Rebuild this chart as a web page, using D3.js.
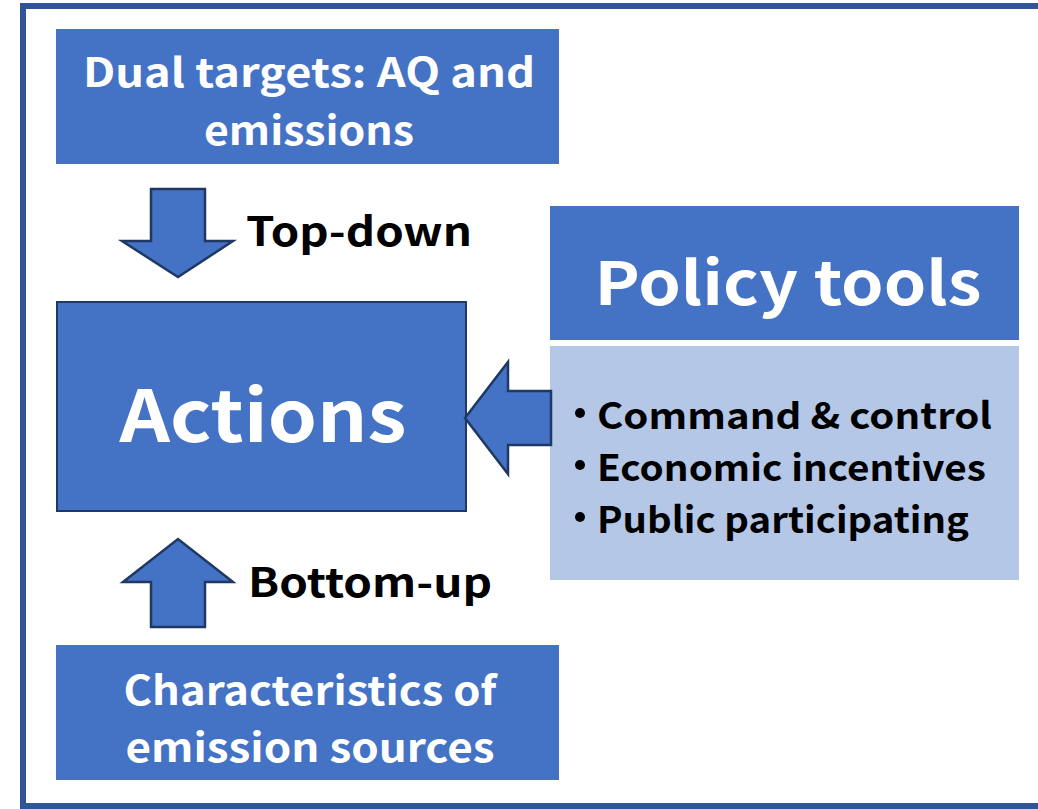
<!DOCTYPE html>
<html>
<head>
<meta charset="utf-8">
<script src="https://cdn.jsdelivr.net/npm/d3@7"></script>
<style>
  body { margin: 0; background: #fff; }
  text { font-family: "Noto Sans CJK SC", "Noto Sans", sans-serif; font-weight: 700; }
</style>
</head>
<body>
<script>
const w = 1038;
const h = 809;

// texts of the diagram
const topLines = ["Dual targets: AQ and", "emissions"];
const bottomLines = ["Characteristics of", "emission sources"];
const centerLabel = "Actions";
const policyTitle = "Policy tools";
const policyItems = ["Command & control", "Economic incentives", "Public participating"];
const arrowLabels = ["Top-down", "Bottom-up"];

const blue = "#4472C4";
const lightBlue = "#B4C7E7";
const dark = "#1F3864";
const frame = "#2F5597";

const svg = d3.select("body")
    .append("svg")
    .attr("width", w)
    .attr("height", h);

// outer frame (right edge runs off the page)
svg.append("path")
    .attr("d", `M${w + 10},6 H23 V806 H${w + 10}`)
    .attr("fill", "none")
    .attr("stroke", frame)
    .attr("stroke-width", 6);

function box(x0, y0, x1, y1, fill, stroke) {
    svg.append("rect")
        .attr("x", x0).attr("y", y0)
        .attr("width", x1 - x0).attr("height", y1 - y0)
        .attr("fill", fill)
        .attr("stroke", stroke || "none")
        .attr("stroke-width", 2);
}

function label(txt, x, y, size, color, len, anchor) {
    const t = svg.append("text")
        .attr("x", x).attr("y", y)
        .attr("font-size", size)
        .attr("fill", color)
        .attr("text-anchor", anchor || "middle")
        .attr("dominant-baseline", "central")
        .text(txt);
    if (len) t.attr("textLength", len).attr("lengthAdjust", "spacingAndGlyphs");
    return t;
}

// top and bottom boxes
box(56, 29, 559, 164, blue);
label(topLines[0], 309, 70, 40, "#fff", 452);
label(topLines[1], 309, 128, 40, "#fff", 210);

box(56, 645, 559, 780, blue);
label(bottomLines[0], 310, 688, 40, "#fff", 373);
label(bottomLines[1], 310, 745, 40, "#fff", 369);

// actions box
box(57, 302, 466, 511, blue, dark);
label(centerLabel, 263, 410, 72, "#fff", 287);

// policy tools
box(550, 206, 1019, 340, blue);
label(policyTitle, 788, 278, 60, "#fff", 387);
box(550, 346, 1019, 580, lightBlue);
const itemY = d3.scalePoint().domain(policyItems).range([413, 517]);
policyItems.forEach((s, i) => {
    svg.append("circle").attr("cx", 580).attr("cy", itemY(s)).attr("r", 5).attr("fill", "#000");
    label(s, 597, itemY(s), 36, "#000", [395, 389, 372][i], "start");
});

// arrows
const arrow = d3.line();
svg.append("path")
    .attr("d", arrow([[151, 189], [205, 189], [205, 241], [233, 241], [178, 277], [122, 241], [151, 241]]) + "Z")
    .attr("fill", blue).attr("stroke", dark).attr("stroke-width", 2.5);
svg.append("path")
    .attr("d", arrow([[151, 627], [205, 627], [205, 582], [233, 582], [178, 539], [123, 582], [151, 582]]) + "Z")
    .attr("fill", blue).attr("stroke", dark).attr("stroke-width", 2.5);
svg.append("path")
    .attr("d", arrow([[551, 391], [551, 445], [508, 445], [508, 474], [465, 418], [508, 362], [508, 391]]) + "Z")
    .attr("fill", blue).attr("stroke", dark).attr("stroke-width", 2.5);

label(arrowLabels[0], 359, 229, 40, "#000", 226);
label(arrowLabels[1], 370, 580, 40, "#000", 244);
</script>
</body>
</html>
